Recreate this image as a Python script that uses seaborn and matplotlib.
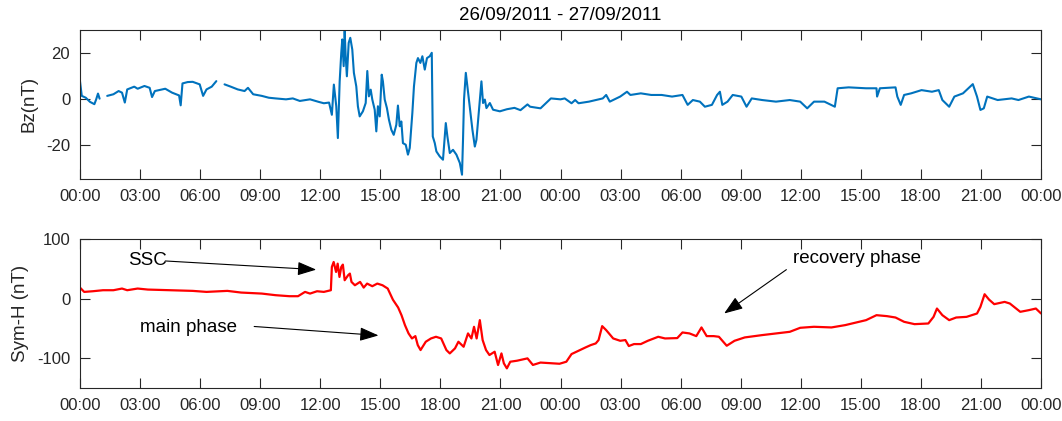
import numpy as np
import pandas as pd
import matplotlib
matplotlib.use("Agg")
import matplotlib.pyplot as plt
import seaborn as sns

# ---------------- data ----------------
title_text = "26/09/2011 - 27/09/2011"
tick_hours = list(range(0, 49, 3))
tick_labels = ["00:00", "03:00", "06:00", "09:00", "12:00", "15:00", "18:00", "21:00",
               "00:00", "03:00", "06:00", "09:00", "12:00", "15:00", "18:00", "21:00", "00:00"]
bz_yticks = [-20, 0, 20]
symh_yticks = [-100, 0, 100]

# hours since 26/09/2011 00:00 ; NaN marks a data gap
bz_hours = [0.00, 0.09, 0.29, 0.50, 0.72, 0.81, 0.90, 0.98, 1.15, 1.36, 1.67, 1.93, 2.10, 2.24,
            2.36, 2.71, 2.88, 3.22, 3.48, 3.60, 3.74, 4.26, 4.60, 4.95, 5.03, 5.12, 5.38, 5.63,
            5.98, 6.15, 6.32, 6.58, 6.81, 7.00, 7.22, 7.53, 7.88, 8.22, 8.39, 8.65, 9.08, 9.43,
            9.77, 10.29, 10.63, 10.98, 11.49, 11.92, 12.18, 12.44, 12.58, 12.68, 12.80, 12.88,
            12.97, 13.05, 13.10, 13.17, 13.22, 13.27, 13.33, 13.42, 13.50, 13.60, 13.68, 13.80,
            13.88, 13.97, 14.13, 14.27, 14.35, 14.43, 14.52, 14.60, 14.72, 14.80, 14.88, 14.97,
            15.07, 15.13, 15.22, 15.33, 15.43, 15.55, 15.67, 15.80, 15.88, 15.97, 16.05, 16.13,
            16.27, 16.38, 16.47, 16.60, 16.68, 16.80, 16.88, 17.00, 17.10, 17.22, 17.33, 17.47,
            17.57, 17.62, 17.72, 17.80, 17.97, 18.13, 18.27, 18.35, 18.47, 18.63, 18.80, 18.97,
            19.08, 19.13, 19.18, 19.27, 19.35, 19.47, 19.60, 19.72, 19.80, 19.93, 20.05, 20.13,
            20.22, 20.30, 20.47, 20.63, 20.97, 21.32, 21.70, 22.00, 22.35, 22.48, 23.00, 23.52,
            24.00, 24.21, 24.55, 24.73, 24.90, 25.42, 26.11, 26.28, 26.46, 26.98, 27.32, 27.49,
            28.01, 28.53, 29.05, 29.57, 30.09, 30.35, 30.61, 30.96, 31.21, 31.56, 31.82, 31.96,
            32.08, 32.34, 32.60, 33.03, 33.29, 33.55, 34.07, 34.76, 35.45, 35.97, 36.32, 36.66,
            37.18, 37.70, 37.84, 38.39, 39.26, 39.78, 39.81, 39.95, 40.73, 40.82, 40.99, 41.16,
            41.51, 42.03, 42.55, 42.89, 43.07, 43.41, 43.67, 44.10, 44.45, 44.59, 44.80, 44.97,
            45.14, 45.31, 45.83, 46.53, 46.87, 47.39, 48.00]
bz_values = [7.6, 1.2, 0.4, -1.4, -2.4, -0.3, 2.2, 0.0, np.nan, 1.2, 1.9, 3.3, 2.6, -1.7,
             4.0, 5.2, 4.3, 5.5, 4.7, 0.7, 3.3, 4.3, 2.6, 1.4, -2.9, 6.6, 7.2, 7.3,
             6.2, 1.2, 4.0, 5.2, 7.6, np.nan, 6.2, 5.2, 4.0, 3.3, 4.7, 1.9, 1.2, 0.4,
             0.1, -0.3, 0.1, -1.0, -0.3, -1.4, -2.0, -1.7, -7.0, 6.1, -3.3, -17.1,
             7.5, 19.9, 25.7, 14.1, 29.3, 18.4, 9.7, 24.2, 26.4, 21.3, 11.2, 5.3,
             -3.3, -7.7, -5.5, -1.9, 12.0, 1.0, 3.9, -0.4, -4.8, -14.2, -3.3, -7.7,
             10.4, 7.5, -0.4, -4.1, -9.1, -13.5, -15.7, -11.3, -3.0, -12.0, -9.9, -19.3,
             -20.0, -24.3, -21.4, -6.2, 5.3, 15.5, 17.6, 15.5, 18.4, 12.6, 17.6, 18.4,
             19.9, -16.4, -19.3, -22.9, -25.1, -26.5, -10.6, -16.4, -23.6, -22.2, -24.3, -27.9,
             -33.0, -17.9, -0.4, 11.2, 5.3, -3.3, -13.5, -20.8, -17.9, -4.8, 7.5, -1.9,
             -0.4, -4.1, -1.9, -4.8, -5.5, -4.6, -4.0, -5.0, -2.5, -3.5, -4.2, 0.1,
             -0.3, 0.1, -2.0, -0.6, -2.0, -1.3, 0.1, 1.6, -1.3, 0.9, 3.0, 1.6,
             2.3, 1.6, 1.6, 0.9, 1.6, -2.7, -0.6, -1.3, -3.5, -2.7, 1.6, 3.0,
             -2.7, -1.3, 1.6, 0.9, -3.5, 0.1, -0.6, -1.3, -0.6, -1.3, -4.2, -1.3,
             -1.3, -3.5, 4.5, 4.9, 4.5, 4.5, 0.9, 4.5, 4.9, 0.9, -2.7, 1.6,
             2.3, 3.7, 3.0, 3.7, -0.6, -3.5, 0.9, 2.3, 5.2, 6.3, 0.9, -4.9,
             -4.2, 0.9, -0.6, 0.1, -0.6, 0.9, -0.3]

symh_hours = [0.00, 0.21, 0.64, 1.15, 1.67, 2.10, 2.36, 2.88, 3.39, 4.60, 5.63, 6.32, 7.36, 8.05,
              9.08, 9.77, 10.46, 10.89, 11.24, 11.49, 11.84, 12.18, 12.53, 12.58, 12.67, 12.79,
              12.87, 12.96, 13.05, 13.13, 13.22, 13.39, 13.48, 13.56, 13.73, 13.99, 14.17, 14.34,
              14.60, 14.85, 15.11, 15.37, 15.63, 15.89, 16.06, 16.23, 16.41, 16.58, 16.75, 16.87,
              17.01, 17.27, 17.53, 17.78, 18.04, 18.30, 18.47, 18.73, 18.90, 19.16, 19.38, 19.55,
              19.68, 19.81, 19.97, 20.11, 20.28, 20.45, 20.71, 20.88, 21.05, 21.17, 21.32, 21.49,
              21.83, 22.35, 22.62, 23.00, 23.52, 23.95, 24.29, 24.55, 24.90, 25.25, 25.51, 25.76,
              25.90, 26.08, 26.28, 26.63, 26.98, 27.24, 27.41, 27.67, 28.01, 28.36, 28.88, 29.22,
              29.83, 30.09, 30.44, 30.78, 31.04, 31.30, 31.65, 31.91, 32.30, 32.69, 33.20, 34.07,
              34.76, 35.45, 35.97, 36.66, 37.53, 38.22, 38.91, 39.26, 39.78, 40.30, 40.73, 41.16,
              41.68, 42.37, 42.63, 42.80, 43.07, 43.41, 43.76, 44.28, 44.80, 44.97, 45.18, 45.40,
              45.66, 46.18, 46.44, 46.96, 47.39, 47.74, 48.00]
symh_values = [18.3, 11.1, 12.2, 13.9, 13.9, 16.7, 13.9, 16.7, 15.0, 13.9, 12.8, 11.1, 12.8, 10.0,
               8.3, 5.6, 3.9, 3.9, 11.1, 8.3, 12.2, 11.1, 13.9, 52.8, 61.1, 44.4,
               58.3, 36.1, 52.8, 56.7, 30.6, 38.9, 41.7, 27.8, 22.2, 27.8, 18.3, 25.0,
               20.6, 25.0, 22.2, 16.7, -2.0, -15.0, -28.0, -44.4, -58.3, -66.7, -62.8, -77.8,
               -86.1, -72.2, -66.7, -63.9, -66.7, -86.1, -91.7, -83.3, -72.2, -80.6, -58.3, -66.7,
               -47.2, -66.7, -36.1, -69.4, -86.1, -94.4, -88.9, -111.1, -91.7, -108.3, -116.7, -105.6,
               -103.9, -100.0, -111.0, -107.0, -108.0, -109.0, -105.6, -92.8, -87.2, -81.7, -77.8, -75.0,
               -69.4, -46.1, -52.8, -66.7, -70.6, -69.4, -79.4, -76.1, -76.1, -70.6, -63.9, -66.7,
               -66.1, -56.7, -58.3, -62.8, -48.3, -62.8, -62.8, -63.9, -78.9, -70.6, -65.0, -61.1,
               -58.3, -55.6, -48.9, -47.2, -48.3, -44.4, -38.9, -36.1, -27.8, -29.4, -31.7, -38.9,
               -42.8, -41.7, -30.6, -16.7, -27.8, -36.1, -31.7, -30.6, -25.0, -13.9, 7.2, -1.7,
               -9.4, -5.6, -8.3, -22.2, -19.4, -16.7, -25.0]

annotation_texts = ["SSC", "main phase", "recovery phase"]
annotation_text_xy = [(2.40, 62.8), (2.98, -48.3), (35.63, 66.7)]
annotation_tail_xy = [(4.26, 62.8), (8.70, -46.7), (35.28, 48.3)]
annotation_tip_xy = [(11.80, 48.3), (14.91, -61.7), (32.17, -25.0)]

# ---------------- style ----------------
sns.set_theme(style="ticks")
plt.rcParams["font.family"] = ["Liberation Sans", "DejaVu Sans"]
plt.rcParams["axes.unicode_minus"] = False
axis_grey = "#262626"

fig = plt.figure(figsize=(10.62, 4.21), dpi=100)
fig.patch.set_facecolor("white")
ax1 = fig.add_axes([0.0753, 0.5741, 0.905, 0.3558])
ax2 = fig.add_axes([0.0753, 0.0777, 0.905, 0.3553])

bz = pd.DataFrame({"t": bz_hours, "v": bz_values})
bz["seg"] = bz["v"].isna().cumsum()
bz = bz.dropna()
sns.lineplot(data=bz, x="t", y="v", units="seg", estimator=None, sort=False,
             color="#0072BD", linewidth=1.5, ax=ax1, legend=False)

sy = pd.DataFrame({"t": symh_hours, "v": symh_values})
sns.lineplot(data=sy, x="t", y="v", estimator=None, sort=False,
             color="#FF0000", linewidth=1.6, ax=ax2, legend=False)

for ax, yt, ylim, ylab in [(ax1, bz_yticks, (-35, 30), "Bz(nT)"),
                           (ax2, symh_yticks, (-150, 100), "Sym-H (nT)")]:
    ax.set_xlim(0, 48)
    ax.set_ylim(*ylim)
    ax.set_xticks(tick_hours)
    ax.set_xticklabels(tick_labels)
    ax.set_yticks(yt)
    ax.set_xlabel("")
    ax.set_ylabel(ylab, fontsize=13.5, color=axis_grey, labelpad=6)
    ax.tick_params(direction="in", length=7, width=0.8, top=True, right=True,
                   labelsize=12, colors=axis_grey, pad=7)
    for s in ax.spines.values():
        s.set_visible(True)
        s.set_color(axis_grey)
        s.set_linewidth(0.8)

ax1.set_title(title_text, fontsize=13.5, color="black", pad=7)

for txt, txy, tail, tip in zip(annotation_texts, annotation_text_xy, annotation_tail_xy, annotation_tip_xy):
    ax2.text(txy[0], txy[1], txt, fontsize=13.5, color="black", ha="left", va="center")
    ax2.annotate("", xy=tip, xytext=tail,
                 arrowprops=dict(arrowstyle="-|>,head_length=1.15,head_width=0.42",
                                 color="black", lw=0.8, mutation_scale=10,
                                 shrinkA=0, shrinkB=0))

fig.savefig("out.png", dpi=100, facecolor="white")
